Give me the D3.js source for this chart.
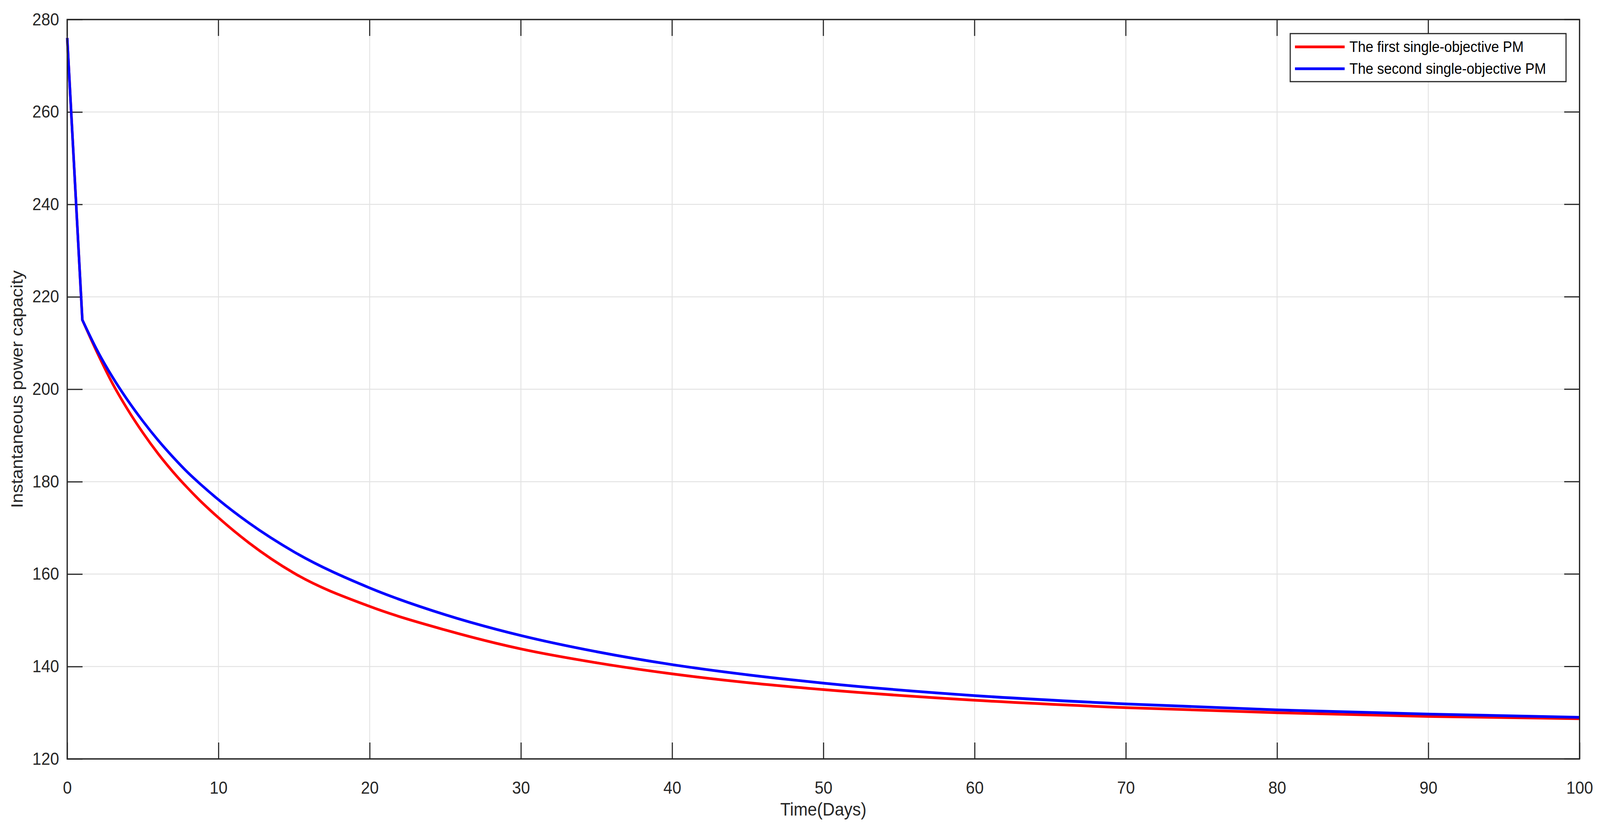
<!DOCTYPE html>
<html><head><meta charset="utf-8">
<script src="https://cdn.jsdelivr.net/npm/d3@7"></script>
<style>html,body{margin:0;padding:0;overflow:hidden;background:#fff}svg{display:block;font-family:Arial,"Liberation Sans",sans-serif}</style>
</head><body>
<script>
const days = [0,1,2,3,4,5,6,7,8,9,10,12,15,20,25,30,35,40,45,50,60,70,80,90,100];
const firstPM = [276,215,207.8,201.2,195.6,190.6,186.1,182.1,178.5,175.2,172.2,166.8,160.2,153.0,147.9,143.8,140.8,138.4,136.5,135.0,132.7,131.1,130.0,129.2,128.7];
const secondPM = [276,215,208.3,202.6,197.6,193.1,189.0,185.3,181.9,178.9,176.1,171.1,164.8,157.0,151.2,146.7,143.2,140.4,138.2,136.4,133.7,131.9,130.6,129.7,129.0];
const xTicks = d3.range(0,101,10);
const yTicks = d3.range(120,281,20);
const seriesNames = ["The first single-objective PM","The second single-objective PM"];
const colors = ["#ff0000","#0000ff"];

const W=4380,H=2125,L=184,R=4324,T=50,B=1943;
const svg=d3.select("body").append("svg").attr("viewBox",`0 0 ${W} ${H}`)
 .attr("preserveAspectRatio","none").style("width","100vw").style("height","100vh");
const x=d3.scaleLinear().domain([0,100]).range([L,R]);
const y=d3.scaleLinear().domain([120,280]).range([B,T]);

svg.append("g").selectAll("line").data(xTicks.slice(1,-1)).join("line")
 .attr("x1",d=>x(d)).attr("x2",d=>x(d)).attr("y1",T).attr("y2",B).attr("stroke","#e3e3e3").attr("stroke-width",2.5);
svg.append("g").selectAll("line").data(yTicks.slice(1,-1)).join("line")
 .attr("y1",d=>y(d)).attr("y2",d=>y(d)).attr("x1",L).attr("x2",R).attr("stroke","#e3e3e3").attr("stroke-width",2.5);

const ax=svg.append("g").attr("transform",`translate(0,${B})`).call(d3.axisBottom(x).tickValues(xTicks).tickSize(-42).tickPadding(58));
const ay=svg.append("g").attr("transform",`translate(${L},0)`).call(d3.axisLeft(y).tickValues(yTicks).tickSize(-42).tickPadding(22));
[ax,ay].forEach(g=>{g.select(".domain").remove();g.selectAll("line").attr("stroke","#262626").attr("stroke-width",3);
 g.selectAll("text").attr("font-size",44).attr("fill","#262626");});
svg.append("g").selectAll("line").data(xTicks).join("line").attr("x1",d=>x(d)).attr("x2",d=>x(d)).attr("y1",T).attr("y2",T+42).attr("stroke","#262626").attr("stroke-width",3);
svg.append("g").selectAll("line").data(yTicks).join("line").attr("y1",d=>y(d)).attr("y2",d=>y(d)).attr("x1",R).attr("x2",R-42).attr("stroke","#262626").attr("stroke-width",3);

[firstPM,secondPM].forEach((s,k)=>{
 const pts=s.map((v,i)=>[days[i],v]);
 const lin=d3.line().x(d=>x(d[0])).y(d=>y(d[1]));
 const smooth=d3.line().x(d=>x(d[0])).y(d=>y(d[1])).curve(d3.curveMonotoneX);
 svg.append("path").attr("d",lin(pts.slice(0,2))+smooth(pts.slice(1)).replace(/^M/,"L"))
  .attr("fill","none").attr("stroke",colors[k]).attr("stroke-width",7).attr("stroke-linejoin","round");
});
svg.append("rect").attr("x",L).attr("y",T).attr("width",R-L).attr("height",B-T).attr("fill","none").attr("stroke","#262626").attr("stroke-width",3.5);

const lg=svg.append("g");
lg.append("rect").attr("x",3532).attr("y",86).attr("width",755).attr("height",123).attr("fill","#fff").attr("stroke","#262626").attr("stroke-width",3);
seriesNames.forEach((n,i)=>{
 const yy=120+i*56;
 lg.append("line").attr("x1",3545).attr("x2",3681).attr("y1",yy).attr("y2",yy).attr("stroke",colors[i]).attr("stroke-width",7);
 lg.append("text").attr("x",3694).attr("y",yy).attr("dy","0.35em").attr("font-size",38).attr("fill","#000").text(n);
});

svg.append("text").attr("x",(L+R)/2).attr("y",2088).attr("text-anchor","middle").attr("font-size",46).attr("fill","#262626").text("Time(Days)");
svg.append("text").attr("transform",`translate(62,${(T+B)/2}) rotate(-90)`).attr("text-anchor","middle").attr("font-size",46).attr("fill","#262626").text("Instantaneous power capacity");
</script>
</body></html>
